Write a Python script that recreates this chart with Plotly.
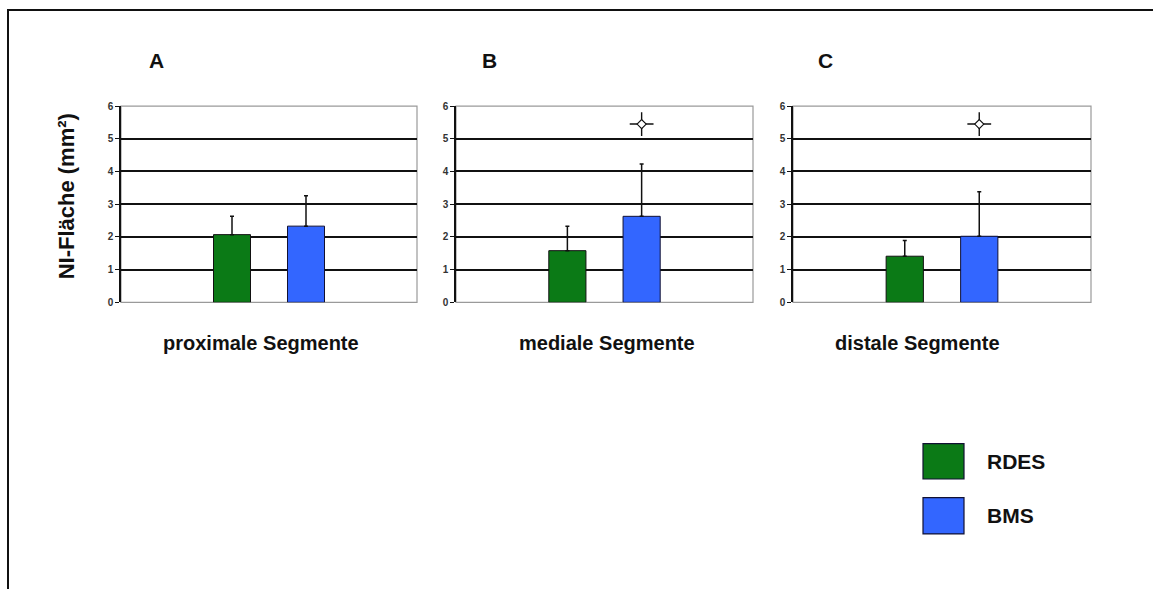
import plotly.graph_objects as go

# Neointimal area (mm²) per stent segment: mean and upper SD
segments = ["proximale Segmente", "mediale Segmente", "distale Segmente"]
panel_letters = ["A", "B", "C"]
groups = ["RDES", "BMS"]
rdes_mean = [2.07, 1.58, 1.41]
rdes_sd = [0.56, 0.75, 0.48]
bms_mean = [2.33, 2.63, 2.02]
bms_sd = [0.93, 1.60, 1.36]
significant = [False, True, True]   # star above BMS bar
star_level = 5.45
y_ticks = [0, 1, 2, 3, 4, 5, 6]

GREEN = "#0b7a16"
BLUE = "#3366ff"
W, H = 1153, 589

# subplot placement (pixels -> paper)
x_domains_px = [(121, 417), (456, 753), (793, 1091)]
y_domain_px = (103, 303)
label_centers_px = [261, 607, 917]
letter_centers_px = [157, 489, 825]

def px_x(v):
    return v / W

def px_y(v):
    return 1 - v / H

fig = go.Figure()
layout_axes = {}
shapes = []
annotations = []

for i, seg in enumerate(segments):
    n = "" if i == 0 else str(i + 1)
    xa, ya = "x" + n, "y" + n
    fig.add_trace(go.Bar(
        x=[groups[0]], y=[rdes_mean[i]], width=0.5, xaxis=xa, yaxis=ya,
        marker=dict(color=GREEN, line=dict(color="#111111", width=1)),
        error_y=dict(type="data", symmetric=False, array=[rdes_sd[i]], arrayminus=[0],
                     color="#111111", thickness=1.5, width=2),
        showlegend=False, hoverinfo="skip"))
    fig.add_trace(go.Bar(
        x=[groups[1]], y=[bms_mean[i]], width=0.5, xaxis=xa, yaxis=ya,
        marker=dict(color=BLUE, line=dict(color="#111133", width=1)),
        error_y=dict(type="data", symmetric=False, array=[bms_sd[i]], arrayminus=[0],
                     color="#111111", thickness=1.5, width=2),
        showlegend=False, hoverinfo="skip"))
    if significant[i]:
        # significance mark: thin cross with an open centre
        fig.add_trace(go.Scatter(
            x=[groups[1]], y=[star_level], mode="markers", xaxis=xa, yaxis=ya,
            marker=dict(symbol="cross-thin", size=17, color="#111111",
                        line=dict(width=1.4, color="#111111")),
            showlegend=False, hoverinfo="skip"))
        fig.add_trace(go.Scatter(
            x=[groups[1]], y=[star_level], mode="markers", xaxis=xa, yaxis=ya,
            marker=dict(symbol="diamond", size=7, color="white",
                        line=dict(width=1.1, color="#111111")),
            showlegend=False, hoverinfo="skip"))

    x0, x1 = x_domains_px[i]
    layout_axes["xaxis" + n] = dict(
        domain=[px_x(x0), px_x(x1)], anchor=ya, type="category",
        categoryorder="array", categoryarray=groups, range=[-1.5, 2.5],
        showticklabels=False, ticks="", showgrid=False, zeroline=False, showline=False)
    layout_axes["yaxis" + n] = dict(
        domain=[px_y(y_domain_px[1]), px_y(y_domain_px[0])], anchor=xa,
        range=[0, 6], tickvals=y_ticks, ticks="outside", ticklen=4, tickwidth=1,
        tickcolor="#111111", showgrid=True, gridcolor="#111111", gridwidth=1.6,
        zeroline=False, showline=True, linecolor="#111111", linewidth=1.5,
        tickfont=dict(family="Liberation Sans Narrow, Liberation Sans, Arial",
                      size=10, color="#333333", weight="bold"))
    # grey plot frame
    shapes.append(dict(type="rect", xref=xa + " domain", yref=ya + " domain",
                       x0=0, x1=1, y0=0, y1=1, layer="below",
                       line=dict(color="#9a9a9a", width=1.2)))
    annotations.append(dict(text=seg, xref="paper", yref="paper",
                            x=px_x(label_centers_px[i]), y=px_y(344),
                            xanchor="center", yanchor="middle", showarrow=False,
                            font=dict(family="Liberation Sans, Arial", size=20,
                                      color="#111111", weight="bold")))
    annotations.append(dict(text=panel_letters[i], xref="paper", yref="paper",
                            x=px_x(letter_centers_px[i]), y=px_y(57),
                            xanchor="center", yanchor="middle", showarrow=False,
                            font=dict(family="Liberation Sans, Arial", size=21,
                                      color="#111111", weight="bold")))

# y-axis title shared by the panels
annotations.append(dict(text="NI-Fläche (mm²)", xref="paper", yref="paper",
                        x=px_x(66), y=px_y(195), textangle=-90,
                        xanchor="center", yanchor="middle", showarrow=False,
                        font=dict(family="Liberation Sans, Arial", size=22,
                                  color="#111111", weight="bold")))

# legend boxes
legend_rows = [(GREEN, groups[0], 447, 483), (BLUE, groups[1], 502, 539)]
for color, name, top, bottom in legend_rows:
    shapes.append(dict(type="rect", xref="paper", yref="paper",
                       x0=px_x(923), x1=px_x(964), y0=px_y(bottom), y1=px_y(top),
                       fillcolor=color, line=dict(color="#111133", width=1.2)))
    annotations.append(dict(text=name, xref="paper", yref="paper",
                            x=px_x(985), y=px_y((top + bottom) / 2),
                            xanchor="left", yanchor="middle", showarrow=False,
                            font=dict(family="Liberation Sans, Arial", size=21,
                                      color="#111111", weight="bold")))

# outer frame
shapes.append(dict(type="rect", xref="paper", yref="paper",
                   x0=px_x(8), x1=1.02, y0=-0.02, y1=px_y(5),
                   line=dict(color="#111111", width=2)))

fig.update_layout(
    width=W, height=H, margin=dict(l=0, r=0, t=0, b=0),
    paper_bgcolor="white", plot_bgcolor="white",
    barmode="overlay", shapes=shapes, annotations=annotations,
    **layout_axes)

fig.write_html("out.html")
